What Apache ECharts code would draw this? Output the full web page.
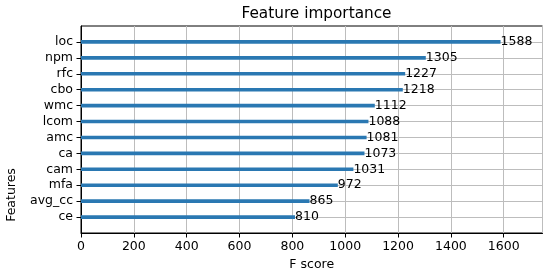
<!DOCTYPE html>
<html>
<head>
<meta charset="utf-8">
<script src="https://cdn.jsdelivr.net/npm/echarts@6/dist/echarts.min.js"></script>
<style>html,body{margin:0;padding:0;background:#fff;}#c{width:550px;height:276px;}</style>
</head>
<body>
<div id="c"></div>
<script>
// Features from bottom to top
const features = ['ce', 'avg_cc', 'mfa', 'cam', 'ca', 'amc', 'lcom', 'wmc', 'cbo', 'rfc', 'npm', 'loc'];
const fScores = [810, 865, 972, 1031, 1073, 1081, 1088, 1112, 1218, 1227, 1305, 1588];
const xTicks = [0, 200, 400, 600, 800, 1000, 1200, 1400, 1600];

const FONT = 'DejaVu Sans';
const FS = 12.5;
const cats = [''].concat(features, ['']);
const vals = [null].concat(fScores, [null]);
const xMax = Math.max(...fScores) * 1.1;
const show = (i, v) => v !== '';

const chart = echarts.init(document.getElementById('c'), null, {renderer: 'canvas'});
chart.setOption({
  animation: false,
  backgroundColor: '#fff',
  title: {
    text: 'Feature importance',
    left: 311.5,
    textAlign: 'center',
    top: 2,
    textStyle: {fontFamily: FONT, fontSize: 15.3, fontWeight: 'normal', color: '#000'}
  },
  grid: {
    left: 81, right: 7.5, top: 26, bottom: 42,
    show: true, borderColor: '#000', borderWidth: 1, backgroundColor: 'transparent'
  },
  xAxis: {
    type: 'value', min: 0, max: xMax, interval: 200,
    name: 'F score', nameLocation: 'middle', nameGap: 25,
    nameTextStyle: {fontFamily: FONT, fontSize: FS, color: '#000'},
    axisLine: {show: true, lineStyle: {color: '#000', width: 1}},
    axisTick: {show: true, length: 4.5, lineStyle: {color: '#000'}},
    axisLabel: {
      margin: 7, fontFamily: FONT, fontSize: FS, color: '#000', showMaxLabel: false,
      formatter: v => (xTicks.indexOf(v) >= 0 ? String(v) : '')
    },
    splitLine: {show: true, lineStyle: {color: '#bdbdbd', width: 1}}
  },
  yAxis: {
    type: 'category', data: cats, boundaryGap: false,
    axisLine: {show: true, lineStyle: {color: '#000', width: 1}},
    axisTick: {show: true, length: 4.5, interval: show, lineStyle: {color: '#000'}},
    axisLabel: {margin: 8, interval: show, fontFamily: FONT, fontSize: FS, color: '#000'},
    splitLine: {show: true, interval: show, lineStyle: {color: '#bdbdbd', width: 1}}
  },
  graphic: [{
    type: 'text', x: 12, y: 195, rotation: Math.PI / 2,
    style: {text: 'Features', font: FS + 'px "DejaVu Sans"', fill: '#000', textAlign: 'center', textVerticalAlign: 'middle'}
  }],
  series: [{
    type: 'bar', data: vals, barWidth: 3.6,
    itemStyle: {color: '#2a78b2'},
    label: {
      show: true, position: 'right', distance: 0,
      fontFamily: FONT, fontSize: FS, color: '#000',
      formatter: p => (p.value == null ? '' : String(p.value))
    }
  }]
});
</script>
</body>
</html>
